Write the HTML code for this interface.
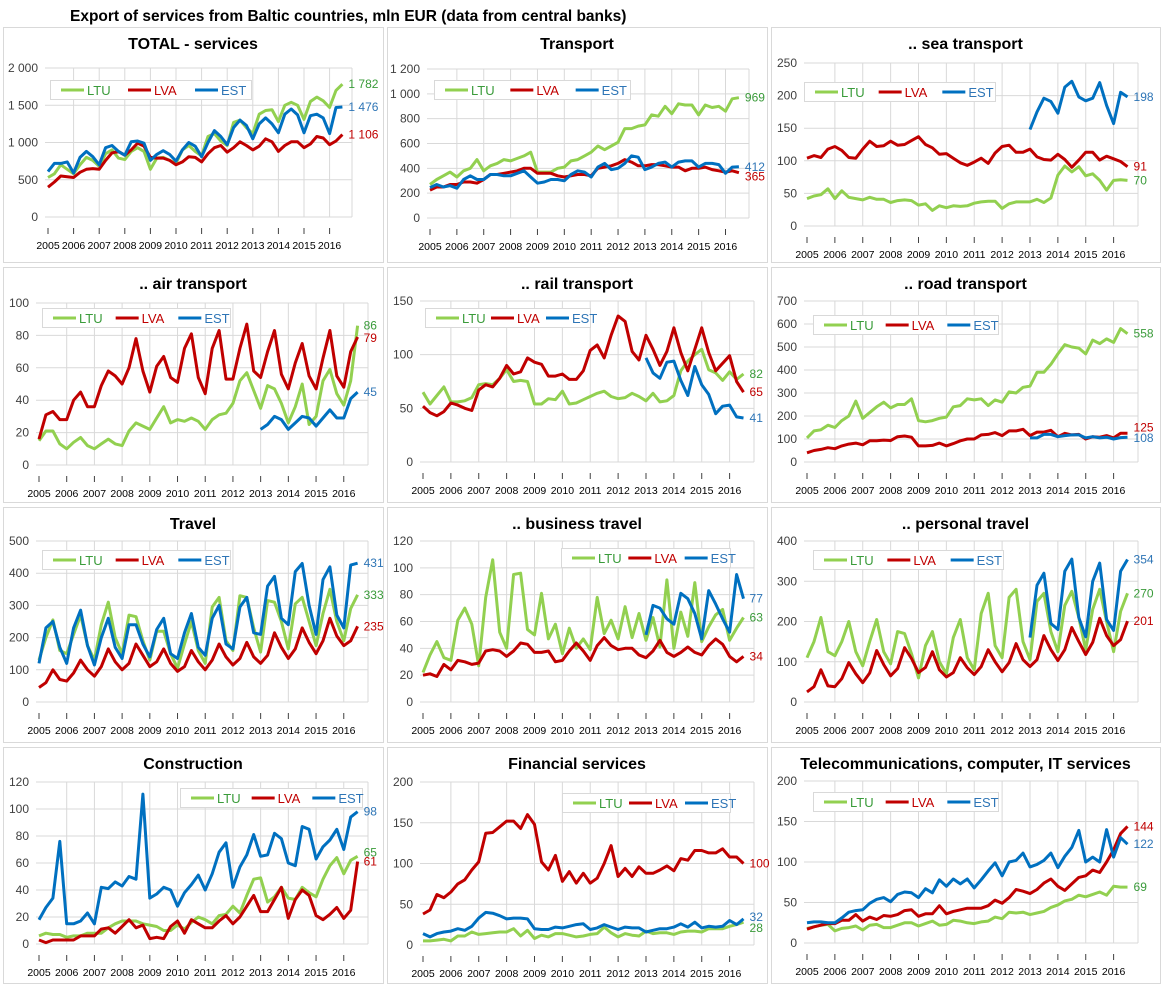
<!DOCTYPE html>
<html><head><meta charset="utf-8"><style>
html,body{margin:0;padding:0;background:#fff;}
svg{display:block;font-family:"Liberation Sans",Arial,sans-serif;}
</style></head><body>
<svg id="chart" width="1163" height="986" viewBox="0 0 1163 986" xmlns="http://www.w3.org/2000/svg">
<rect x="0" y="0" width="1163" height="986" fill="#fff"/>
<text x="70" y="21" font-size="15.5" font-weight="bold" fill="#000">Export of services from Baltic countries, mln EUR (data from central banks)</text>
</svg>
<script>
const years = ["2005","2006","2007","2008","2009","2010","2011","2012","2013","2014","2015","2016"];
const seriesNames = ["LTU","LVA","EST"];
const N = null;

const totalLTU = [530,580,700,640, 580,700,800,760, 680,850,900,790, 770,880,930,880, 640,790,800,760, 720,900,960,880, 820,1080,1120,1020, 960,1270,1300,1200, 1120,1380,1430,1440, 1280,1500,1540,1500, 1310,1550,1610,1560, 1470,1700,1782];
const totalLVA = [400,470,550,540, 530,600,640,650, 640,760,860,880, 830,900,990,950, 800,790,790,760, 700,740,810,800, 740,850,930,960, 870,930,1010,960, 900,950,1050,1010, 880,960,1010,1010, 930,980,1080,1060, 970,1020,1106];
const totalEST = [610,720,720,740, 590,800,880,810, 700,930,960,880, 830,1010,1020,990, 760,840,890,840, 750,900,1000,950, 810,1000,1160,1080, 970,1200,1300,1230, 1050,1250,1330,1250, 1130,1380,1450,1370, 1130,1360,1380,1330, 1120,1470,1476];

const transLTU = [270,310,340,370, 330,380,400,470, 380,420,440,470, 460,480,500,530, 370,370,370,400, 410,460,470,500, 530,580,550,580, 610,720,720,740, 750,830,820,900, 840,920,910,910, 830,910,890,900, 860,960,969];
const transLVA = [225,250,250,270, 270,290,290,280, 310,350,350,360, 370,380,400,400, 360,360,360,340, 330,340,350,350, 340,400,410,420, 440,470,450,420, 420,430,430,420, 410,410,380,400, 400,410,390,380, 370,380,365];
const transEST = [245,270,250,260, 240,310,340,310, 310,350,350,340, 340,360,380,330, 280,290,310,310, 300,350,380,370, 330,410,440,390, 400,440,500,490, 390,410,440,450, 410,450,460,460, 410,440,440,430, 360,410,412];

const seaLTU = [42,46,48,57, 42,54,44,42, 40,44,41,41, 36,39,40,39, 32,34,24,31, 28,31,30,31, 35,37,38,38, 27,34,37,37, 37,41,36,43, 78,92,83,91, 77,80,70,55, 70,71,70];
const seaLVA = [104,108,105,118, 122,116,105,104, 118,130,122,123, 130,124,125,131, 137,125,120,110, 111,104,97,93, 98,104,96,112, 122,124,113,113, 118,106,102,101, 110,102,90,101, 113,113,101,107, 103,99,91];
const seaEST = [N,N,N,N, N,N,N,N, N,N,N,N, N,N,N,N, N,N,N,N, N,N,N,N, N,N,N,N, N,N,N,N, 148,175,196,191, 173,213,222,198, 192,196,220,185, 157,205,198];

const airLTU = [15,21,21,13, 10,14,17,12, 10,13,16,13, 12,21,26,24, 22,29,36,26, 28,27,29,27, 22,28,31,32, 38,52,57,46, 35,49,47,38, 26,36,50,25, 30,52,59,44, 37,52,86];
const airLVA = [16,31,33,28, 28,40,45,36, 36,49,58,55, 50,60,78,58, 45,61,67,54, 51,72,81,54, 44,72,83,53, 53,72,87,58, 54,70,83,56, 47,63,75,55, 47,66,83,55, 48,70,79];
const airEST = [N,N,N,N, N,N,N,N, N,N,N,N, N,N,N,N, N,N,N,N, N,N,N,N, N,N,N,N, N,N,N,N, 22,25,30,28, 22,26,30,29, 24,29,34,29, 29,41,45];

const railLTU = [65,54,62,70, 56,56,57,60, 72,73,72,78, 86,75,76,75, 54,54,59,58, 66,54,55,58, 61,64,66,61, 59,60,64,61, 57,64,56,57, 62,85,94,100, 105,86,83,76, 84,77,82];
const railLVA = [52,46,43,47, 55,53,50,48, 67,72,70,78, 90,82,84,97, 93,91,80,80, 82,77,77,85, 104,109,97,118, 136,131,103,95, 118,105,90,103, 125,102,85,105, 125,102,85,92, 99,75,65];
const railEST = [N,N,N,N, N,N,N,N, N,N,N,N, N,N,N,N, N,N,N,N, N,N,N,N, N,N,N,N, N,N,N,N, 97,83,78,93, 94,76,62,89, 72,63,45,52, 53,42,41];

const roadLTU = [105,135,140,160, 150,180,200,265, 190,215,240,260, 235,250,250,275, 180,175,180,190, 195,240,245,275, 270,275,245,270, 260,305,300,325, 330,390,390,425, 470,510,500,495, 470,530,515,535, 520,580,558];
const roadLVA = [40,50,55,62, 58,70,78,82, 75,92,92,95, 93,110,113,108, 70,70,72,82, 70,80,92,100, 100,118,120,128, 115,135,135,142, 115,130,130,138, 110,125,118,120, 100,110,108,115, 105,125,125];
const roadEST = [N,N,N,N, N,N,N,N, N,N,N,N, N,N,N,N, N,N,N,N, N,N,N,N, N,N,N,N, N,N,N,N, 105,105,120,120, 110,115,118,118, 105,110,105,108, 100,106,108];

const travelLTU = [130,200,255,160, 150,210,270,175, 130,240,310,200, 150,270,265,190, 130,220,220,150, 105,180,250,160, 120,295,325,190, 160,330,325,230, 155,315,310,250, 165,305,325,250, 175,275,350,250, 190,290,333];
const travelLVA = [45,60,100,70, 65,90,130,100, 80,110,165,125, 100,120,180,145, 110,125,165,120, 95,110,160,125, 100,130,180,140, 115,135,185,140, 120,145,215,170, 135,165,230,185, 150,190,260,205, 175,190,235];
const travelEST = [120,230,250,170, 120,230,285,175, 115,200,260,170, 135,240,240,180, 140,225,260,150, 135,215,275,170, 145,260,300,180, 165,295,325,215, 210,360,390,260, 240,405,430,300, 210,380,420,270, 230,425,431];

const busLTU = [22,35,45,33, 31,61,70,58, 27,78,106,52, 40,95,96,54, 50,81,47,58, 36,55,40,47, 39,78,51,61, 47,71,48,66, 46,63,41,91, 40,67,49,89, 45,56,65,69, 46,55,63];
const busLVA = [20,21,19,28, 24,31,30,28, 29,38,39,38, 34,38,44,43, 37,37,38,30, 31,38,44,38, 31,42,48,42, 39,40,40,35, 33,38,46,37, 34,37,41,37, 35,42,47,43, 34,30,34];
const busEST = [N,N,N,N, N,N,N,N, N,N,N,N, N,N,N,N, N,N,N,N, N,N,N,N, N,N,N,N, N,N,N,N, 50,72,70,62, 58,81,77,66, 47,83,73,62, 52,95,77];

const persLTU = [110,150,210,125, 115,150,200,125, 90,150,205,125, 95,175,170,120, 60,140,175,100, 70,160,205,110, 80,220,270,140, 110,260,280,150, 105,250,270,175, 125,240,275,210, 130,230,280,200, 125,225,270];
const persLVA = [25,38,80,40, 38,58,98,70, 48,72,128,93, 65,83,135,108, 73,86,125,80, 62,73,110,85, 68,88,130,100, 75,98,145,105, 88,105,165,130, 103,130,185,150, 118,148,208,165, 140,155,201];
const persEST = [N,N,N,N, N,N,N,N, N,N,N,N, N,N,N,N, N,N,N,N, N,N,N,N, N,N,N,N, N,N,N,N, 160,290,320,195, 180,325,355,210, 162,300,345,205, 178,325,354];

const consLTU = [6,8,7,7, 5,6,6,8, 8,8,12,15, 17,17,17,15, 14,13,10,10, 14,11,16,20, 18,15,21,22, 28,23,36,48, 49,31,35,42, 34,33,42,38, 35,48,58,64, 52,62,65];
const consLVA = [3,1,3,3, 3,3,6,6, 6,11,12,8, 13,18,12,14, 4,5,4,13, 17,8,18,15, 12,12,17,21, 15,20,28,36, 24,24,33,42, 19,33,40,36, 21,18,22,27, 19,25,61];
const consEST = [18,27,34,76, 15,15,17,23, 15,42,41,46, 43,50,48,111, 34,37,42,40, 28,38,44,51, 40,52,68,75, 42,57,66,81, 65,66,82,78, 60,58,87,85, 63,72,77,85, 70,94,98];

const finLTU = [5,5,6,7, 5,11,11,16, 13,14,15,16, 16,20,11,18, 8,12,10,14, 14,12,10,11, 13,14,22,15, 10,14,12,11, 17,14,15,15, 13,16,17,17, 16,20,20,20, 23,25,28];
const finLVA = [38,43,62,58, 65,75,80,92, 102,137,138,145, 152,152,143,160, 148,102,92,110, 78,90,76,88, 76,82,100,122, 84,94,84,96, 88,88,92,97, 91,106,104,116, 116,113,113,118, 108,108,100];
const finEST = [14,10,14,16, 17,20,18,23, 33,40,39,36, 32,33,33,32, 20,19,19,22, 21,23,25,26, 19,21,25,22, 19,22,21,21, 16,18,20,20, 22,26,22,28, 21,23,22,23, 30,25,32];

const itLTU = [18,20,22,23, 15,18,19,21, 16,22,23,19, 19,22,25,25, 21,24,27,22, 23,28,27,25, 24,26,27,32, 30,38,37,38, 35,37,39,44, 47,52,54,59, 57,60,63,59, 70,69,69];
const itLVA = [17,20,22,24, 24,28,28,35, 27,32,29,34, 33,35,40,41, 33,36,36,46, 36,39,41,43, 43,43,46,53, 49,56,66,64, 61,66,74,79, 70,65,73,81, 83,90,87,100, 115,135,144];
const itEST = [25,26,26,25, 25,31,38,40, 41,49,54,56, 51,60,63,62, 56,67,62,78, 70,79,73,79, 68,78,89,99, 83,100,102,111, 94,97,102,111, 93,107,118,139, 100,106,100,140, 106,130,122];

const panelTitles = ["TOTAL - services","Transport",".. sea transport",".. air transport",".. rail transport",".. road transport","Travel",".. business travel",".. personal travel","Construction","Financial services","Telecommunications, computer, IT services"];
const panelMax = [2000,1200,250,100,150,700,500,120,400,120,200,200];
const panelStep = [500,200,50,20,50,100,100,20,100,20,50,50];
const panelData = [
 [totalLTU,totalLVA,totalEST],[transLTU,transLVA,transEST],[seaLTU,seaLVA,seaEST],
 [airLTU,airLVA,airEST],[railLTU,railLVA,railEST],[roadLTU,roadLVA,roadEST],
 [travelLTU,travelLVA,travelEST],[busLTU,busLVA,busEST],[persLTU,persLVA,persEST],
 [consLTU,consLVA,consEST],[finLTU,finLVA,finEST],[itLTU,itLVA,itEST]];

// layout (not data)
const geom = [
 {x0:3,y0:27,w:380,h:235,xf:48,xr:352,yT:68,yZ:217,lx:50,ly:80,lw:201,dy:[0,0,0]},
 {x0:387,y0:27,w:380,h:235,xf:430,xr:749,yT:69,yZ:218,lx:434,ly:80,lw:196,dy:[0,4,0]},
 {x0:771,y0:27,w:389,h:235,xf:807,xr:1138,yT:63,yZ:226,lx:804,ly:82,lw:191,dy:[0,0,0]},
 {x0:3,y0:267,w:380,h:235,xf:39,xr:368,yT:303,yZ:465,lx:42,ly:308,lw:188,dy:[0,1,0]},
 {x0:387,y0:267,w:380,h:235,xf:423,xr:754,yT:301,yZ:462,lx:425,ly:308,lw:165,dy:[0,0,0]},
 {x0:771,y0:267,w:389,h:235,xf:807,xr:1138,yT:301,yZ:462,lx:813,ly:315,lw:185,dy:[0,-6,1]},
 {x0:3,y0:507,w:380,h:235,xf:39,xr:368,yT:541,yZ:702,lx:42,ly:550,lw:188,dy:[0,0,0]},
 {x0:387,y0:507,w:380,h:235,xf:423,xr:754,yT:541,yZ:702,lx:561,ly:548,lw:169,dy:[0,0,0]},
 {x0:771,y0:507,w:389,h:235,xf:807,xr:1138,yT:541,yZ:702,lx:813,ly:550,lw:190,dy:[0,0,0]},
 {x0:3,y0:747,w:380,h:236,xf:39,xr:368,yT:782,yZ:944,lx:180,ly:788,lw:182,dy:[-4,0,0]},
 {x0:387,y0:747,w:380,h:236,xf:423,xr:754,yT:782,yZ:945,lx:562,ly:793,lw:168,dy:[6,0,-2]},
 {x0:771,y0:747,w:389,h:236,xf:807,xr:1138,yT:781,yZ:943,lx:813,ly:792,lw:185,dy:[0,0,0]}];
const lineColors = ["#92d050","#c00000","#0070c0"];
const labelColors = ["#3a9b3a","#c00000","#2e75b6"];

const NS = "http://www.w3.org/2000/svg";
const svg = document.getElementById("chart");
function mk(tag, attrs, parent){ const e=document.createElementNS(NS,tag); for(const k in attrs) e.setAttribute(k,attrs[k]); (parent||svg).appendChild(e); return e; }
function fmt(v){ return String(v).replace(/\B(?=(\d{3})+(?!\d))/g," "); }

panelTitles.forEach((title,pi)=>{
  const g = geom[pi];
  const grp = mk("g",{});
  
  
  const bg = mk("rect",{x:g.x0+0.5,y:g.y0+0.5,width:g.w,height:g.h,fill:"#fff",stroke:"#d9d9d9","stroke-width":1},grp);
  
  
  const q = (g.xr - g.xf)/47.5;
  const xs = i => g.xf + i*q;
  const ys = v => g.yZ - v/panelMax[pi]*(g.yZ-g.yT);
  const gl = g.xf - 3;
  // title
  const t = mk("text",{x:g.x0+g.w/2,y:g.y0+22,"text-anchor":"middle","font-size":16,"font-weight":"bold",fill:"#000"},grp);
  t.textContent = title;
  
  
  // horizontal grid + y labels
  for(let v=0; v<=panelMax[pi]; v+=panelStep[pi]){
    const y = ys(v);
    const ln = mk("line",{x1:gl,x2:g.xr,y1:y,y2:y,stroke:"#d9d9d9","stroke-width":1},grp);
    
    
    const lb = mk("text",{x:gl-7,y:y+4,"text-anchor":"end","font-size":12,fill:"#404040"},grp);
    lb.textContent = fmt(v);
    
    
  }
  // vertical grid, ticks, year labels
  years.forEach((yr,k)=>{
    const x = xs(k*4);
    if(k>0){
      const vl = mk("line",{x1:x,x2:x,y1:g.yT,y2:g.yZ,stroke:"#d9d9d9","stroke-width":1},grp);
      
      
    }
    const tk = mk("line",{x1:x,x2:x,y1:g.yZ+11,y2:g.yZ+17,stroke:"#404040","stroke-width":1},grp);
    
    
    const yl = mk("text",{x:x,y:g.yZ+32,"text-anchor":"middle","font-size":10.5,fill:"#000"},grp);
    yl.textContent = yr;
    
    
  });
  const vr = mk("line",{x1:g.xr,x2:g.xr,y1:g.yT,y2:g.yZ,stroke:"#d9d9d9","stroke-width":1},grp);
  
  
  // series
  panelData[pi].forEach((arr,si)=>{
    let d="", started=false, last=-1;
    arr.forEach((v,i)=>{ if(v===null){ started=false; return; } d += (started?"L":"M")+xs(i).toFixed(1)+","+ys(v).toFixed(1); started=true; last=i; });
    const p = mk("path",{d:d,fill:"none",stroke:lineColors[si],"stroke-width":3,"stroke-linejoin":"round"},grp);
    
    
    const el = mk("text",{x:xs(last)+6,y:ys(arr[last])+4+g.dy[si],"font-size":12,fill:labelColors[si]},grp);
    el.textContent = fmt(arr[last]);
    
    
  });
  // legend
  const lg = mk("g",{},grp);
  
  
  mk("rect",{x:g.lx+0.5,y:g.ly+0.5,width:g.lw,height:19,fill:"#fff",stroke:"#d9d9d9","stroke-width":1},lg);
  const slot = g.lw/3;
  seriesNames.forEach((nm,si)=>{
    const sx = g.lx + si*slot;
    const ent = mk("g",{},lg);
    
    
    mk("line",{x1:sx+11,x2:sx+34,y1:g.ly+10,y2:g.ly+10,stroke:lineColors[si],"stroke-width":3},ent);
    const lt = mk("text",{x:sx+37,y:g.ly+15,"font-size":13,fill:labelColors[si]},ent);
    lt.textContent = nm;
  });
});
</script>
</body></html>
